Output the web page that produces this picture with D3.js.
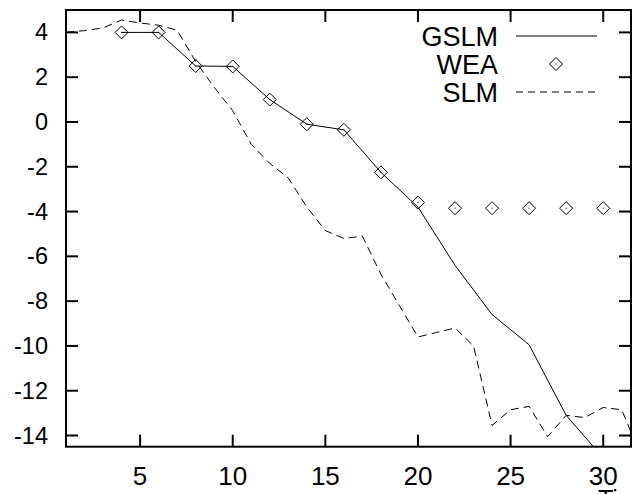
<!DOCTYPE html>
<html>
<head>
<meta charset="utf-8">
<script src="https://cdn.jsdelivr.net/npm/d3@7"></script>
<style>
  body { margin: 0; background: #fff; }
  svg { display: block; font-family: "Liberation Sans", Arial, sans-serif; }
</style>
</head>
<body>
<div id="chart"></div>
<script>
// series
const slmX = [1, 2, 3, 4, 5, 6, 7, 8, 9, 10, 11, 12, 13, 14, 15, 16, 17, 18, 19, 20, 21, 22, 23, 24, 25, 26, 27, 28, 29, 30, 31, 32];
const slmY = [4.0, 4.08, 4.2, 4.55, 4.42, 4.32, 4.1, 2.7, 1.55, 0.5, -1.0, -1.85, -2.5, -3.8, -4.85, -5.2, -5.1, -6.8, -8.2, -9.6, -9.4, -9.2, -10.0, -13.55, -12.85, -12.7, -14.05, -13.1, -13.2, -12.75, -12.85, -14.85];

const evenX = [4, 6, 8, 10, 12, 14, 16, 18, 20, 22, 24, 26, 28, 30];
const gslmY = [4.0, 4.0, 2.5, 2.48, 1.0, -0.1, -0.35, -2.25, -3.8, -6.4, -8.6, -9.95, -13.1, -15.0];
const weaY = [4.0, 4.0, 2.5, 2.48, 1.0, -0.1, -0.35, -2.25, -3.6, -3.85, -3.85, -3.85, -3.85, -3.85];

const xTicks = [5, 10, 15, 20, 25, 30];
const yTicks = [4, 2, 0, -2, -4, -6, -8, -10, -12, -14];
const legendNames = ['GSLM', 'WEA', 'SLM'];

const width = 632, height = 494;
const margin = {top: 10, right: 1, bottom: 47.3, left: 66};

const svg = d3.select('#chart')
    .append('svg')
    .attr('width', width)
    .attr('height', height);

const x = d3.scaleLinear()
    .domain([1, 31.5])
    .range([margin.left, width - margin.right]);

const y = d3.scaleLinear()
    .domain([-14.5, 5])
    .range([height - margin.bottom, margin.top]);

svg.append('clipPath')
    .attr('id', 'plot-clip')
    .append('rect')
    .attr('x', x(1))
    .attr('y', y(5))
    .attr('width', x(31.5) - x(1))
    .attr('height', y(-14.5) - y(5));

// ticks on all four sides, pointing inward
const tickLen = 12;
const axes = svg.append('g').attr('stroke', '#000').attr('stroke-width', 2);

xTicks.forEach(t => {
    axes.append('line').attr('x1', x(t)).attr('x2', x(t))
        .attr('y1', y(-14.5)).attr('y2', y(-14.5) - tickLen);
    axes.append('line').attr('x1', x(t)).attr('x2', x(t))
        .attr('y1', y(5)).attr('y2', y(5) + tickLen);
});
yTicks.forEach(t => {
    axes.append('line').attr('x1', x(1)).attr('x2', x(1) + tickLen)
        .attr('y1', y(t)).attr('y2', y(t));
    axes.append('line').attr('x1', x(31.5)).attr('x2', x(31.5) - tickLen)
        .attr('y1', y(t)).attr('y2', y(t));
});

// tick labels
svg.append('g')
    .selectAll('text')
    .data(xTicks)
    .enter()
    .append('text')
    .attr('x', d => x(d))
    .attr('y', 485)
    .attr('text-anchor', 'middle')
    .style('font-size', '26px')
    .text(d => d);

svg.append('g')
    .selectAll('text')
    .data(yTicks)
    .enter()
    .append('text')
    .attr('x', 48)
    .attr('y', d => y(d) + 8)
    .attr('text-anchor', 'end')
    .style('font-size', '23.5px')
    .text(d => d);

// x axis title, mostly cut off by the image edge
svg.append('text')
    .attr('x', 598)
    .attr('y', 508)
    .style('font-size', '25px')
    .text('Time');

const plot = svg.append('g').attr('clip-path', 'url(#plot-clip)');

const line = d3.line()
    .x(d => x(d[0]))
    .y(d => y(d[1]));

plot.append('path')
    .datum(slmX.map((v, i) => [v, slmY[i]]))
    .attr('fill', 'none')
    .attr('stroke', '#000')
    .attr('stroke-width', 1)
    .attr('stroke-dasharray', '8,5')
    .attr('d', line);

plot.append('path')
    .datum(evenX.map((v, i) => [v, gslmY[i]]))
    .attr('fill', 'none')
    .attr('stroke', '#000')
    .attr('stroke-width', 1)
    .attr('d', line);

const diamond = (cx, cy, r) =>
    `M${cx},${cy - r}L${cx + r},${cy}L${cx},${cy + r}L${cx - r},${cy}Z`;

const wea = plot.selectAll('.wea')
    .data(evenX.map((v, i) => [v, weaY[i]]))
    .enter()
    .append('g')
    .attr('class', 'wea');

wea.append('path')
    .attr('d', d => diamond(x(d[0]), y(d[1]), 6.5))
    .attr('fill', 'none')
    .attr('stroke', '#000')
    .attr('stroke-width', 1);

wea.append('rect')
    .attr('x', d => x(d[0]) - 0.5)
    .attr('y', d => y(d[1]) - 0.5)
    .attr('width', 1)
    .attr('height', 1)
    .attr('fill', '#000');

// frame
svg.append('rect')
    .attr('x', x(1))
    .attr('y', y(5))
    .attr('width', x(31.5) - x(1))
    .attr('height', y(-14.5) - y(5))
    .attr('fill', 'none')
    .attr('stroke', '#000')
    .attr('stroke-width', 2);

// legend
const legend = svg.append('g');
const legendY = [36, 64, 92];

legend.selectAll('text')
    .data(legendNames)
    .enter()
    .append('text')
    .attr('x', 498)
    .attr('y', (d, i) => legendY[i] + 9.5)
    .attr('text-anchor', 'end')
    .style('font-size', '27px')
    .text(d => d);

legend.append('line')
    .attr('x1', 516).attr('x2', 597)
    .attr('y1', legendY[0]).attr('y2', legendY[0])
    .attr('stroke', '#000')
    .attr('stroke-width', 1);

legend.append('path')
    .attr('d', diamond(556, legendY[1], 6.5))
    .attr('fill', 'none')
    .attr('stroke', '#000')
    .attr('stroke-width', 1);

legend.append('rect')
    .attr('x', 555.5).attr('y', legendY[1] - 0.5)
    .attr('width', 1).attr('height', 1)
    .attr('fill', '#000');

legend.append('line')
    .attr('x1', 516).attr('x2', 597)
    .attr('y1', legendY[2]).attr('y2', legendY[2])
    .attr('stroke', '#000')
    .attr('stroke-width', 1)
    .attr('stroke-dasharray', '7,5');
</script>
</body>
</html>
